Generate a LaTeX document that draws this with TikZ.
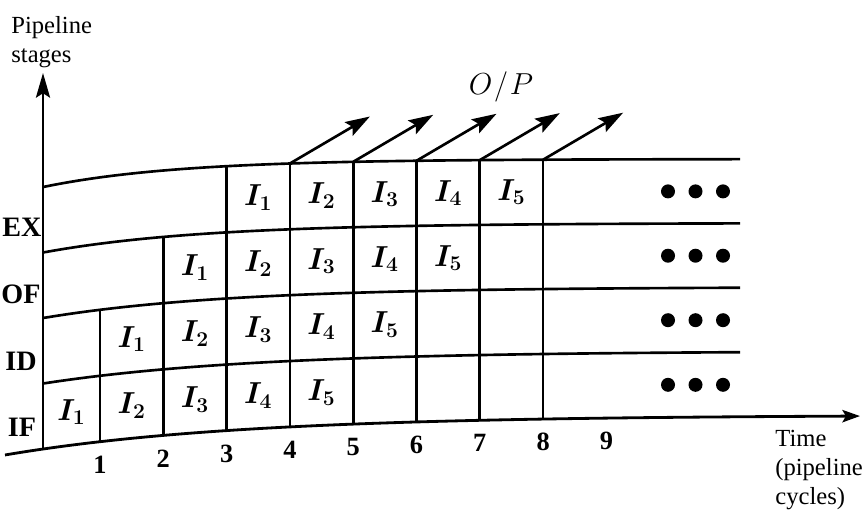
\documentclass[tikz,border=0pt]{standalone}
\usepackage{fontspec}
\setmainfont{Liberation Serif}
\usetikzlibrary{arrows.meta}

\begin{document}
\begin{tikzpicture}[x=.02cm,y=-.02cm,
  declare function={yl(\n,\x)=415-64*\n+(34-1.5*\n)*exp(-(\x-43)/(235-25*\n));
    bx(\j)=(\j==0)*43+(\j>0)*(36.7+63.3*\j);},
  gridline/.style={line width=1.5pt},
  axisline/.style={line width=1.6pt},
  outarrow/.style={line width=1.5pt,-{Stealth[length=14pt,width=9pt,inset=2.5pt]}},
  stagelabel/.style={inner sep=0pt,font=\bfseries\fontsize{16}{18}\selectfont},
  ticklabel/.style={inner sep=0pt,font=\bfseries\fontsize{15}{17}\selectfont},
  cell/.style={inner sep=0pt,font=\fontsize{18}{20}\selectfont\boldmath},
  axislabel/.style={inner sep=0pt,align=left,font=\fontsize{14}{16.5}\selectfont}]
\useasboundingbox (0,0) rectangle (864,512);

% axes
\coordinate (origin) at (43,{yl(0,43)});
\coordinate (ytip) at (43,73);
\draw[axisline,-{Stealth[length=14pt,width=8pt,inset=2.5pt]}] (origin) -- (ytip);
\draw[axisline,-{Stealth[length=10pt,width=7pt,inset=2pt]}]
  plot[domain=5:860,samples=80] (\x,{yl(0,\x)});

% stage boundaries
\foreach \n in {1,...,4}
  \draw[gridline] plot[domain=43:740,samples=60] (\x,{yl(\n,\x)});

% cycle boundaries
\foreach \j/\t in {1/2,2/3,3/4,4/4,5/4,6/4,7/4,8/4}
  \draw[gridline] ({bx(\j)},{yl(\t,bx(\j))}) -- ({bx(\j)},{yl(0,bx(\j))});

% outputs
\foreach \j in {4,...,8}{
  \coordinate (out\j) at ({bx(\j)},{yl(4,bx(\j))});
  \coordinate (tip\j) at ({bx(\j)+80},{yl(4,bx(\j))-47});
  \draw[outarrow] (out\j) -- (tip\j);
}
\node[cell,font=\fontsize{16}{18}\selectfont] (op) at (501,87) {$O\!\:/\!\:P$};

% instructions in the stages
\foreach \s in {1,...,4}
  \foreach \k in {1,...,5}{
    \pgfmathsetmacro\cx{(bx(\k+\s-2)+bx(\k+\s-1))/2}
    \pgfmathsetmacro\cy{(yl(\s-1,\cx)+yl(\s,\cx))/2}
    \node[cell] (i\s\k) at (\cx,\cy) {$I_{\k}$};
  }

% more to come
\foreach \s in {1,...,4}
  \foreach \d in {0,1,2}
    \fill ({668+27.5*\d},{(yl(\s-1,695)+yl(\s,695))/2}) circle[radius=7];

% labels
\node[stagelabel] (if) at (22,427) {IF};
\node[stagelabel] (id) at (21,361) {ID};
\node[stagelabel] (of) at (21,294) {OF};
\node[stagelabel] (ex) at (22,227) {EX};
\foreach \j in {1,...,9}
  \node[ticklabel] (t\j) at ({bx(\j)},{yl(0,bx(\j))+23}) {\j};
\node[axislabel,anchor=west] (ylab) at (11,42) {Pipeline\\stages};
\node[axislabel,anchor=north west] (xlab) at (775,430) {Time\\(pipeline\\cycles)};
\end{tikzpicture}
\end{document}
